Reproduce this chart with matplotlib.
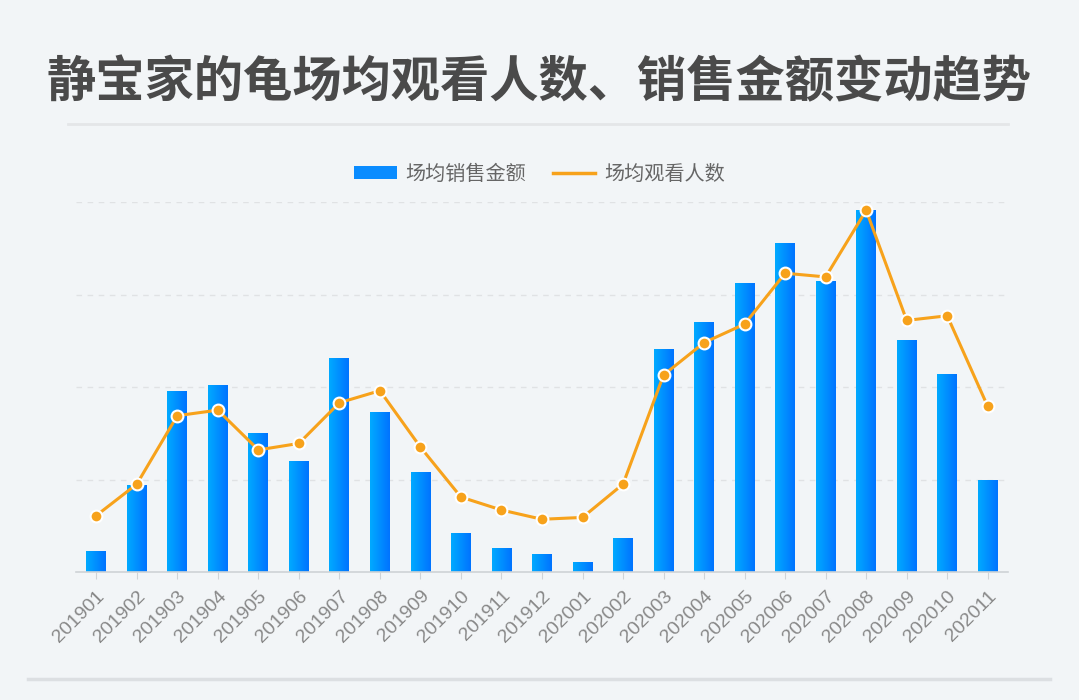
import numpy as np
import matplotlib
matplotlib.use('Agg')
from matplotlib import pyplot as plt
from matplotlib.lines import Line2D
from matplotlib.patches import Patch
from matplotlib.colors import LinearSegmentedColormap

plt.rcParams['font.family'] = ['Noto Sans CJK SC', 'DejaVu Sans']

# data (units = grid steps)
months = ['201901', '201902', '201903', '201904', '201905', '201906', '201907', '201908',
          '201909', '201910', '201911', '201912', '202001', '202002', '202003', '202004',
          '202005', '202006', '202007', '202008', '202009', '202010', '202011']
sales = [0.23, 0.94, 1.96, 2.02, 1.50, 1.20, 2.31, 1.73, 1.08, 0.42, 0.26, 0.19,
         0.11, 0.37, 2.41, 2.70, 3.12, 3.56, 3.15, 3.91, 2.51, 2.14, 0.99]
viewers = [0.61, 0.95, 1.69, 1.75, 1.32, 1.39, 1.83, 1.96, 1.35, 0.81, 0.67, 0.57,
           0.59, 0.95, 2.13, 2.48, 2.68, 3.23, 3.19, 3.91, 2.72, 2.77, 1.79]

W, H = 1079, 700
bg = '#f2f5f7'
fig = plt.figure(figsize=(W / 100, H / 100), dpi=100, facecolor=bg)

# plot area: x 76..1008, y 202..572 px
ax = fig.add_axes([76 / W, (H - 572) / H, (1008 - 76) / W, (572 - 202) / H])
ax.set_facecolor(bg)

x = np.arange(len(months))
bars = ax.bar(x, sales, width=0.49, color='none', zorder=2)
grad = LinearSegmentedColormap.from_list('g', ['#00aaff', '#0073ff'])
gimg = np.linspace(0, 1, 64).reshape(1, -1)
for b in bars:
    x0, y0 = b.get_x(), b.get_y()
    im = ax.imshow(gimg, cmap=grad, aspect='auto', zorder=2,
                   extent=[x0, x0 + b.get_width(), y0, y0 + b.get_height()])
    im.set_clip_path(b)

ax.plot(x, viewers, color='#f7a21b', lw=2.2, marker='o', ms=8.5,
        markerfacecolor='#f7a21b', markeredgecolor='white', markeredgewidth=1.5, zorder=4)

ax.set_xlim(-0.5, len(months) - 0.5)
ax.set_ylim(0, 4)
ax.set_yticks([1, 2, 3, 4])
ax.yaxis.grid(True, color='#e0e2e4', linestyle=(0, (4, 4)), lw=1)
ax.set_axisbelow(True)
ax.tick_params(axis='y', left=False, labelleft=False)
ax.set_xticks(x)
ax.set_xticklabels(months, rotation=45, ha='right', rotation_mode='anchor',
                   fontsize=14, color='#888888', family=['Liberation Sans', 'DejaVu Sans'])
ax.tick_params(axis='x', length=5, color='#cfd3d6', pad=6)
for s in ['left', 'right', 'top']:
    ax.spines[s].set_visible(False)
ax.spines['bottom'].set_color('#cfd3d6')
ax.spines['bottom'].set_linewidth(1.2)

# title and separators
fig.text(0.5, 1 - 83 / H, '静宝家的龟场均观看人数、销售金额变动趋势', ha='center', va='center',
         fontsize=35.5, fontweight='bold', color='#4a4a4a')
fig.add_artist(Line2D([68 / W, 1008 / W], [1 - 124 / H, 1 - 124 / H], color='#e4e6e8', lw=2))
fig.add_artist(Line2D([28 / W, 1050 / W], [1 - 679 / H, 1 - 679 / H], color='#dcdfe2', lw=2.5))

handles = [Patch(facecolor='#0a8cff', edgecolor='none'),
           Line2D([0], [0], color='#f7a21b', lw=2.5)]
fig.legend(handles, ['场均销售金额', '场均观看人数'], loc='center', ncol=2,
           bbox_to_anchor=(0.5, 1 - 174 / H), frameon=False, fontsize=14.5,
           labelcolor='#666666', handlelength=2.1, handleheight=0.65, columnspacing=1.3,
           handletextpad=0.45)

fig.savefig('out.png', dpi=100, facecolor=bg)
